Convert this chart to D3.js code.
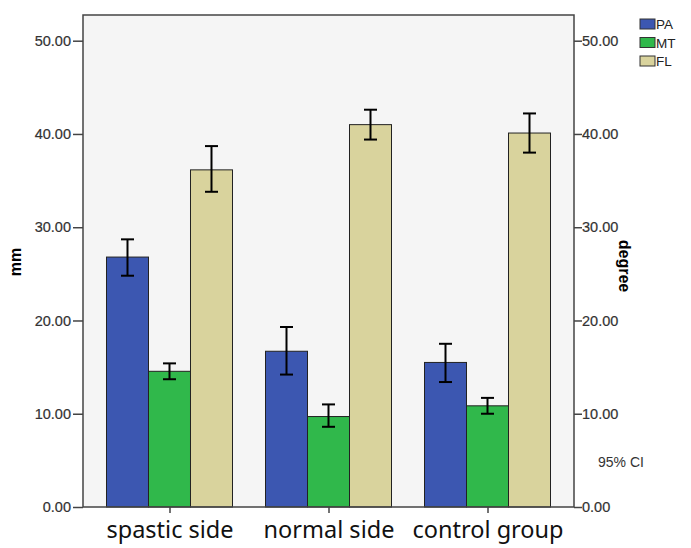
<!DOCTYPE html>
<html>
<head>
<meta charset="utf-8">
<script src="https://cdn.jsdelivr.net/npm/d3@7"></script>
<style>
  body { margin: 0; background: #fff; }
  svg { display: block; }
</style>
</head>
<body>
<svg width="691" height="548"></svg>
<script>
// groups and series
const groups = ["spastic side", "normal side", "control group"];
const series = ["PA", "MT", "FL"];
const colors = ["#3c57b1", "#30b84b", "#d9d39d"];

// means and 95% CI, one row per group, columns follow series
const means = [[26.8, 14.55, 36.15], [16.7, 9.7, 41.0], [15.5, 10.85, 40.1]];
const ciLow = [[24.8, 13.7, 33.8], [14.2, 8.6, 39.4], [13.4, 10.0, 38.0]];
const ciHigh = [[28.7, 15.4, 38.7], [19.3, 11.0, 42.6], [17.5, 11.7, 42.2]];

const yTicks = [0, 10, 20, 30, 40, 50];

const svg = d3.select("svg");
const pL = 83, pR = 574, pT = 15, pB = 507;

const y = d3.scaleLinear().domain([0, 50]).range([pB, 40.7]);
const x = d3.scalePoint().domain(groups).range([pL, pR]).padding(0.544);
const xs = d3.scaleBand().domain(series).range([-63, 63]).padding(0);

// plot area
svg.append("rect")
  .attr("x", pL).attr("y", pT)
  .attr("width", pR - pL).attr("height", pB - pT)
  .attr("fill", "#f5f5f5");

// bars
const g = svg.append("g");
groups.forEach((grp, gi) => {
  series.forEach((s, si) => {
    const bx = x(grp) + xs(s);
    g.append("rect")
      .attr("x", bx).attr("y", y(means[gi][si]))
      .attr("width", xs.bandwidth()).attr("height", y(0) - y(means[gi][si]))
      .attr("fill", colors[si]).attr("stroke", "#222").attr("stroke-width", 1);
  });
});

// error bars
groups.forEach((grp, gi) => {
  series.forEach((s, si) => {
    const cx = x(grp) + xs(s) + xs.bandwidth() / 2;
    const eb = g.append("g").attr("stroke", "#000").attr("stroke-width", 2);
    eb.append("line").attr("x1", cx).attr("x2", cx)
      .attr("y1", y(ciLow[gi][si])).attr("y2", y(ciHigh[gi][si]));
    [ciLow[gi][si], ciHigh[gi][si]].forEach(v => {
      eb.append("line").attr("x1", cx - 6.5).attr("x2", cx + 6.5)
        .attr("y1", y(v)).attr("y2", y(v));
    });
  });
});

// axes
const fmt = d3.format(".2f");
const yl = svg.append("g").attr("transform", `translate(${pL},0)`)
  .call(d3.axisLeft(y).tickValues(yTicks).tickFormat(fmt).tickSize(10).tickPadding(2));
const yr = svg.append("g").attr("transform", `translate(${pR},0)`)
  .call(d3.axisRight(y).tickValues(yTicks).tickFormat(fmt).tickSize(8).tickPadding(0));
[yl, yr].forEach(a => {
  a.select(".domain").remove();
  a.selectAll("line").attr("stroke", "#444").attr("stroke-width", 1.5);
  a.selectAll("text").attr("font-family", "Liberation Sans, Arial, sans-serif")
    .attr("font-size", 14.5).attr("fill", "#333").attr("stroke", "#333").attr("stroke-width", 0.2);
});

const xa = svg.append("g").attr("transform", `translate(0,${pB})`)
  .call(d3.axisBottom(x).tickSize(6).tickPadding(6));
xa.select(".domain").remove();
xa.selectAll("line").attr("stroke", "#444").attr("stroke-width", 1.5);
xa.selectAll("text").attr("font-family", "Noto Sans, sans-serif")
  .attr("font-size", 23.5).attr("fill", "#111").attr("dy", "0.82em");

// frame
svg.append("path")
  .attr("d", `M${pL},${pB}V${pT}H${pR}V${pB}H${pL}`)
  .attr("fill", "none").attr("stroke", "#444").attr("stroke-width", 1.5);

// axis titles
svg.append("text").attr("transform", "translate(21,262) rotate(-90)")
  .attr("text-anchor", "middle").attr("font-family", "Liberation Sans, Arial, sans-serif")
  .attr("font-weight", "bold").attr("font-size", 16).text("mm");
svg.append("text").attr("transform", "translate(619,266) rotate(90)")
  .attr("text-anchor", "middle").attr("font-family", "Liberation Sans, Arial, sans-serif")
  .attr("font-weight", "bold").attr("font-size", 16).text("degree");

// legend
const lg = svg.append("g").attr("transform", "translate(640,19)");
series.forEach((s, i) => {
  lg.append("rect").attr("x", 0).attr("y", i * 18.5)
    .attr("width", 15).attr("height", 10)
    .attr("fill", colors[i]).attr("stroke", "#333").attr("stroke-width", 1);
  lg.append("text").attr("x", 16).attr("y", i * 18.5 + 10)
    .attr("font-family", "Liberation Sans, Arial, sans-serif").attr("font-size", 13.5)
    .attr("fill", "#222").text(s);
});

svg.append("text").attr("x", 598).attr("y", 467)
  .attr("font-family", "Liberation Sans, Arial, sans-serif").attr("font-size", 14)
  .attr("fill", "#333").text("95% CI");
</script>
</body>
</html>
